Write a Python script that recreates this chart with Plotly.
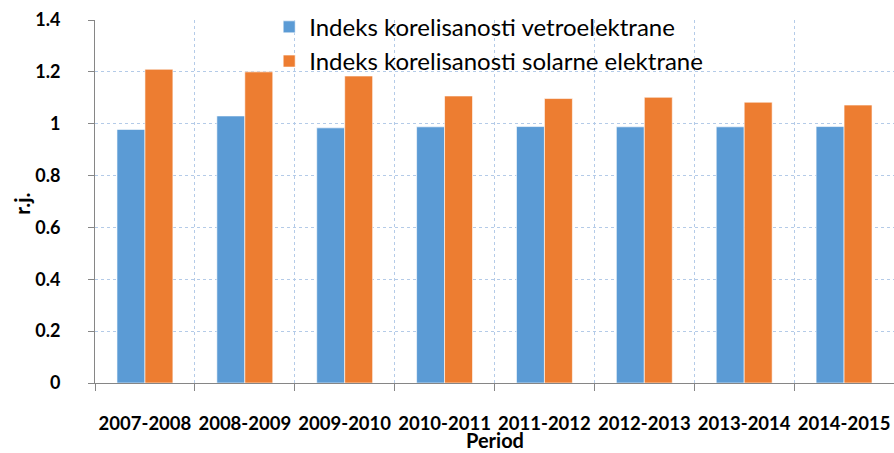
import plotly.graph_objects as go

periods = ["2007-2008", "2008-2009", "2009-2010", "2010-2011",
           "2011-2012", "2012-2013", "2013-2014", "2014-2015"]
vetro = [0.978, 1.030, 0.984, 0.988, 0.989, 0.988, 0.988, 0.989]
solar = [1.210, 1.200, 1.184, 1.107, 1.097, 1.102, 1.083, 1.072]
name_vetro = "Indeks korelisanosti vetroelektrane"
name_solar = "Indeks korelisanosti solarne elektrane"
y_ticks = [0, 0.2, 0.4, 0.6, 0.8, 1.0, 1.2, 1.4]
y_tick_text = ["0", "0.2", "0.4", "0.6", "0.8", "1", "1.2", "1.4"]

fig = go.Figure()
fig.add_trace(go.Bar(x=periods, y=vetro, name=name_vetro,
                     marker=dict(color="#5B9BD5", line=dict(color="rgba(255,255,255,0.6)", width=1))))
fig.add_trace(go.Bar(x=periods, y=solar, name=name_solar,
                     marker=dict(color="#ED7D31", line=dict(color="rgba(255,255,255,0.6)", width=1))))

grid = "#B4CBE8"
fig.update_layout(
    width=894, height=453,
    margin=dict(l=95, r=0, t=20, b=70),
    paper_bgcolor="white", plot_bgcolor="white",
    barmode="group", bargap=0.44, bargroupgap=0,
    font=dict(family="Lato", color="black"),
    showlegend=True,
    legend=dict(x=0.218, y=1.042, xanchor="left", yanchor="top",
                bgcolor="rgba(0,0,0,0)", font=dict(size=24, family="Lato"),
                tracegroupgap=0),
    xaxis=dict(
        type="category", tickson="boundaries", ticks="outside", ticklen=7,
        tickcolor="#868686", showline=True, linecolor="#868686", linewidth=1,
        showgrid=True, gridcolor=grid, griddash="dot", gridwidth=1,
        tickfont=dict(size=18.5, family="Lato", weight="bold"), tickangle=0,
        ticklabelstandoff=24, automargin=False,
        range=[-0.5, 7.5],
    ),
    yaxis=dict(
        range=[0, 1.4], tickvals=y_ticks, ticktext=y_tick_text,
        ticks="outside", ticklen=6, tickcolor="#868686",
        showline=True, linecolor="#868686", linewidth=1,
        showgrid=True, gridcolor=grid, griddash="dot", gridwidth=1,
        zeroline=False, automargin=False,
        tickfont=dict(size=18, family="Lato", weight="bold"),
        ticklabelstandoff=24,
    ),
    annotations=[
        dict(text="<b>r.j.</b>", xref="paper", yref="paper",
             x=-0.093, y=0.493, xanchor="center", yanchor="middle",
             textangle=-90, showarrow=False,
             font=dict(size=21, family="Lato")),
        dict(text="<b>Period</b>", xref="paper", yref="paper",
             x=0.5, y=-0.158, xanchor="center", yanchor="middle",
             showarrow=False, font=dict(size=20, family="Lato")),
    ],
)
fig.write_html("out.html", config={"displayModeBar": False},
               post_script="document.body.style.margin='0';document.body.style.overflow='hidden';")
